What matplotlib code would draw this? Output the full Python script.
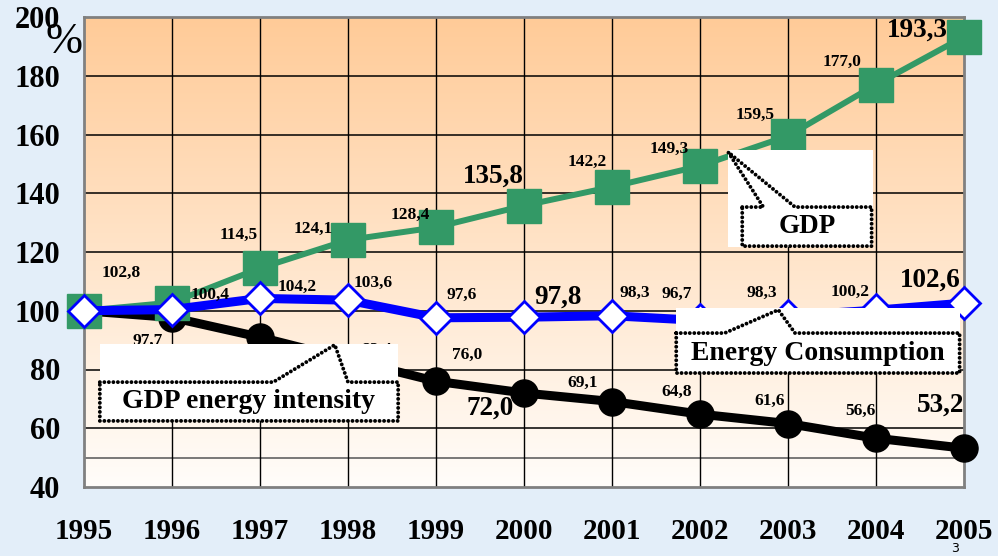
import numpy as np
import matplotlib
matplotlib.use("Agg")
import matplotlib.pyplot as plt
from matplotlib.patches import Rectangle, Polygon

years = [1995, 1996, 1997, 1998, 1999, 2000, 2001, 2002, 2003, 2004, 2005]
gdp = [100.0, 102.8, 114.5, 124.1, 128.4, 135.8, 142.2, 149.3, 159.5, 177.0, 193.3]
energy = [100.0, 100.4, 104.2, 103.6, 97.6, 97.8, 98.3, 96.7, 98.3, 100.2, 102.6]
intensity = [100.0, 97.7, 91.0, 83.4, 76.0, 72.0, 69.1, 64.8, 61.6, 56.6, 53.2]

# label offsets in pixels (dx, dy), None = no label; big = large font
gdp_off = [None, (-51, 30), (-21, 33), (-35, 11), (-26, 12), (-31, 29), (-25, 25), (-31, 17), (-33, 21), (-34, 23), (-47, 7)]
gdp_big = [5, 10]
en_off = [None, (38, 15), (37, 12), (25, 17), (26, 23), (34, 20), (23, 23), (-23, 27), (-26, 23), (-26, 18), (-34, 23)]
en_big = [5, 10]
in_off = [None, (-24, -23), (30, -15), (29, 10), (31, 26), (-34, -15), (-29, 19), (-23, 22), (-18, 23), (-16, 27), (-24, 43)]
in_big = [5, 10]

SERIF = "Liberation Serif"
BG = "#E3EEF9"

fig = plt.figure(figsize=(9.98, 5.56), dpi=100, facecolor=BG)
ax = fig.add_axes([84/998, 1-487/556, (964-84)/998, (487-17)/556])
ax.set_xlim(1995, 2005)
ax.set_ylim(40, 200)

# gradient background
top = np.array([255, 203, 152]) / 255
bot = np.array([255, 253, 250]) / 255
t = np.linspace(0, 1, 256)[:, None]
grad = (top[None, :] * (1 - t) + bot[None, :] * t)
grad = np.repeat(grad[:, None, :], 2, axis=1)
ax.imshow(grad, extent=[1995, 2005, 40, 200], aspect="auto", zorder=0, origin="upper")

# grid
for y in [50, 60, 80, 100, 120, 140, 160, 180]:
    ax.axhline(y, color="black" if y != 50 else "#555555", lw=1.1, zorder=1)
for x in years[1:-1]:
    ax.axvline(x, color="black", lw=1.0, zorder=1)

for s in ax.spines.values():
    s.set_color("#808080")
    s.set_linewidth(2)
    s.set_zorder(2)

# series
ax.plot(years, intensity, color="black", lw=6.5, marker="o", ms=19.5,
        mfc="black", mec="black", zorder=3, clip_on=False)
ax.plot(years, gdp, color="#339966", lw=4.3, marker="s", ms=24.5,
        mfc="#339966", mec="#339966", zorder=3.1, clip_on=False)
ax.plot(years, energy, color="#0000FF", lw=6.5, marker="D", ms=16.5,
        mfc="white", mec="#0000FF", mew=2, zorder=3.2, clip_on=False)

def labels(vals, offs, bigs):
    for i, (v, o) in enumerate(zip(vals, offs)):
        if o is None:
            continue
        txt = f"{v:.1f}".replace(".", ",")
        big = i in bigs
        ax.annotate(txt, (years[i], v), xytext=o, textcoords="offset pixels",
                    ha="center", va="center", fontsize=19.5 if big else 12.5,
                    fontweight="bold", family=SERIF, zorder=4, annotation_clip=False)

labels(gdp, gdp_off, gdp_big)
labels(energy, en_off, en_big)
labels(intensity, in_off, in_big)

# callouts (data coordinates)
def callout(rect, box, base, tip, text, fs):
    x0, x1, y0, y1 = rect
    ax.add_patch(Rectangle((x0, y0), x1 - x0, y1 - y0, facecolor="white",
                           edgecolor="none", zorder=5))
    bx0, bx1, by0, by1 = box
    pts = [(bx0, by1), (base[0], by1), tip, (base[1], by1), (bx1, by1),
           (bx1, by0), (bx0, by0)]
    ax.add_patch(Polygon(pts, closed=True, fill=False, edgecolor="black",
                         lw=2.8, linestyle=(0, (0.01, 1.15)), capstyle="round",
                         joinstyle="round", zorder=6))
    ax.text((bx0 + bx1) / 2, (by0 + by1) / 2, text, ha="center", va="center",
            fontsize=fs, fontweight="bold", family=SERIF, zorder=7)

callout((2002.32, 2003.97, 121.7, 154.7), (2002.48, 2003.95, 122.0, 135.3),
        (2002.72, 2003.08), (2002.32, 154.0), "GDP", 19.5)
callout((2001.73, 2004.95, 78.8, 100.9), (2001.73, 2004.95, 78.8, 92.4),
        (2002.28, 2003.08), (2002.89, 100.3), "Energy Consumption", 20)
callout((1995.18, 1998.57, 62.5, 88.7), (1995.18, 1998.57, 62.5, 75.7),
        (1997.15, 1998.0), (1997.85, 88.4), "GDP energy intensity", 20)

# ticks
ax.set_xticks(years)
ax.set_xticklabels([str(y) for y in years])
ax.set_yticks(list(range(40, 201, 20)))
ax.tick_params(axis="both", length=0)
ax.tick_params(axis="x", pad=22)
ax.tick_params(axis="y", pad=17)
for lab in ax.get_xticklabels():
    lab.set_family(SERIF); lab.set_fontweight("bold"); lab.set_fontsize(21)
for lab in ax.get_yticklabels():
    lab.set_family(SERIF); lab.set_fontweight("bold"); lab.set_fontsize(22)

fig.text(64/998, 1-42/556, "%", ha="center", va="center", fontsize=32, family=SERIF)
fig.text(955/998, 1-549/556, "3", ha="center", va="center", fontsize=9, family="DejaVu Sans")

fig.savefig("out.png", dpi=100, facecolor=BG)
